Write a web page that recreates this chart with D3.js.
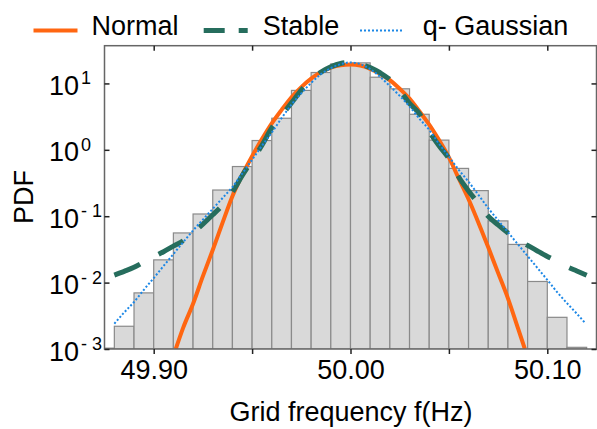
<!DOCTYPE html>
<html>
<head>
<meta charset="utf-8">
<script src="https://cdn.jsdelivr.net/npm/d3@7"></script>
<style>
  body { margin: 0; background: #fff; }
  text { font-family: "Liberation Sans", Arial, sans-serif; fill: #000; }
</style>
</head>
<body>
<svg id="chart" width="597" height="429"></svg>
<script>
// histogram bins (left edge, width 0.01 Hz)
const binStarts = [49.87, 49.88, 49.89, 49.90, 49.91, 49.92, 49.93, 49.94, 49.95, 49.96, 49.97, 49.98, 49.99,
                   50.00, 50.01, 50.02, 50.03, 50.04, 50.05, 50.06, 50.07, 50.08, 50.09, 50.10, 50.11];
const binValues = [0.00103, 0.0022, 0.0070, 0.022, 0.056, 0.108, 0.248, 0.56, 1.38, 2.99, 7.85, 14.6, 19.7,
                   20.4, 12.4, 8.3, 3.43, 1.40, 0.525, 0.243, 0.085, 0.0376, 0.0104, 0.0030, 0.00106];
const binWidth = 0.01;

// Normal fit
const normalX = [49.9112, 49.915, 49.92, 49.925, 49.93, 49.935, 49.94, 49.945, 49.95, 49.955, 49.96, 49.965,
                 49.97, 49.975, 49.98, 49.985, 49.99, 49.995, 50.00, 50.005, 50.01, 50.015, 50.02, 50.025,
                 50.03, 50.035, 50.04, 50.045, 50.05, 50.055, 50.06, 50.065, 50.07, 50.075, 50.08, 50.085, 50.0886];
const normalY = [0.001, 0.0021, 0.0048, 0.0125, 0.031, 0.08, 0.20, 0.42, 0.80, 1.45, 2.5, 4.0,
                 6.2, 8.8, 11.8, 14.8, 17.3, 18.8, 19.2, 18.6, 16.6, 14.0, 11.2, 8.3,
                 5.9, 3.8, 2.4, 1.4, 0.77, 0.37, 0.18, 0.08, 0.034, 0.014, 0.0058, 0.0021, 0.001];

// Stable fit
const stableX = [49.88, 49.885, 49.89, 49.895, 49.90, 49.905, 49.91, 49.915, 49.92, 49.925, 49.93, 49.935,
                 49.94, 49.945, 49.95, 49.955, 49.96, 49.965, 49.97, 49.975, 49.98, 49.985, 49.99, 49.995,
                 50.00, 50.005, 50.01, 50.015, 50.02, 50.025, 50.03, 50.035, 50.04, 50.045, 50.05, 50.055,
                 50.06, 50.065, 50.07, 50.075, 50.08, 50.085, 50.09, 50.095, 50.10, 50.105, 50.11, 50.115, 50.12];
const stableY = [0.0130, 0.0148, 0.0170, 0.0204, 0.0245, 0.0292, 0.0355, 0.0427, 0.0562, 0.076, 0.105, 0.148,
                 0.232, 0.41, 0.69, 1.17, 2.14, 3.3, 5.1, 7.9, 11.5, 14.8, 17.8, 20.0,
                 20.7, 19.5, 17.4, 14.5, 11.4, 7.9, 5.0, 3.5, 1.9, 1.15, 0.74, 0.39,
                 0.24, 0.155, 0.10, 0.074, 0.056, 0.0447, 0.0363, 0.0299, 0.0248, 0.0209, 0.0174, 0.0150, 0.0129];

// q-Gaussian fit
const qgX = [49.88, 49.885, 49.89, 49.895, 49.90, 49.905, 49.91, 49.915, 49.92, 49.925, 49.93, 49.935,
             49.94, 49.945, 49.95, 49.955, 49.96, 49.965, 49.97, 49.975, 49.98, 49.985, 49.99, 49.995,
             50.00, 50.005, 50.01, 50.015, 50.02, 50.025, 50.03, 50.035, 50.04, 50.045, 50.05, 50.055,
             50.06, 50.065, 50.07, 50.075, 50.08, 50.085, 50.09, 50.095, 50.10, 50.105, 50.11, 50.115, 50.119];
const qgY = [0.0024, 0.00355, 0.0051, 0.0078, 0.0117, 0.0178, 0.0269, 0.0407, 0.061, 0.089, 0.129, 0.188,
             0.275, 0.44, 0.71, 1.15, 1.82, 3.0, 4.8, 7.1, 10.2, 13.8, 17.0, 19.5,
             20.7, 19.5, 16.4, 12.6, 9.1, 6.5, 4.5, 2.95, 2.0, 1.23, 0.79, 0.50,
             0.33, 0.21, 0.132, 0.087, 0.0575, 0.038, 0.0251, 0.0166, 0.011, 0.0072, 0.0049, 0.0034, 0.0025];

const xTicks = [49.90, 49.95, 50.00, 50.05, 50.10];
const xLabels = ['49.90', '', '50.00', '', '50.10'];
const yTicks = [1e1, 1e0, 1e-1, 1e-2, 1e-3];
const yExps = ['1', '0', '- 1', '- 2', '- 3'];
const legendLabels = ['Normal', 'Stable', 'q- Gaussian'];

const plotLeft = 104.5, plotRight = 596.5, plotTop = 45.7, plotBottom = 349;

const svg = d3.select('#chart');
svg.append('rect').attr('width', 597).attr('height', 429).attr('fill', '#fff');

const x = d3.scaleLinear().domain([49.875, 50.125]).range([plotLeft, plotRight]);
const y = d3.scaleLog().domain([1e-3, 37]).range([plotBottom, plotTop]);

svg.append('clipPath').attr('id', 'plot')
  .append('rect').attr('x', plotLeft).attr('y', plotTop)
  .attr('width', plotRight - plotLeft).attr('height', plotBottom - plotTop);

const plot = svg.append('g').attr('clip-path', 'url(#plot)');

// bars
plot.selectAll('.bar')
  .data(binStarts)
  .enter().append('rect')
  .attr('class', 'bar')
  .attr('x', d => x(d))
  .attr('width', d => x(d + binWidth) - x(d))
  .attr('y', (d, i) => y(binValues[i]))
  .attr('height', (d, i) => plotBottom - y(binValues[i]))
  .attr('fill', '#d9d9d9')
  .attr('stroke', '#8a8a8a')
  .attr('stroke-width', 1.2);

const line = d3.line().x(d => x(d[0])).y(d => y(d[1])).curve(d3.curveMonotoneX);

plot.append('path')
  .datum(normalX.map((v, i) => [v, normalY[i]]))
  .attr('d', line)
  .attr('fill', 'none')
  .attr('stroke', '#ff6611')
  .attr('stroke-width', 4);

plot.append('path')
  .datum(stableX.map((v, i) => [v, stableY[i]]))
  .attr('d', line)
  .attr('fill', 'none')
  .attr('stroke', '#266d5d')
  .attr('stroke-width', 5)
  .attr('stroke-dasharray', '28,21');

plot.append('path')
  .datum(qgX.map((v, i) => [v, qgY[i]]))
  .attr('d', line)
  .attr('fill', 'none')
  .attr('stroke', '#1b87e6')
  .attr('stroke-width', 2)
  .attr('stroke-dasharray', '2,2');

// frame
svg.append('rect')
  .attr('x', plotLeft).attr('y', plotTop)
  .attr('width', plotRight - plotLeft).attr('height', plotBottom - plotTop)
  .attr('fill', 'none').attr('stroke', '#666').attr('stroke-width', 1.5);

// axes (ticks only, frame drawn separately)
const xb = svg.append('g')
  .attr('transform', 'translate(0,' + plotBottom + ')')
  .call(d3.axisBottom(x).tickValues(xTicks).tickSize(5).tickFormat((d, i) => xLabels[i]));
const xt = svg.append('g')
  .attr('transform', 'translate(0,' + plotTop + ')')
  .call(d3.axisTop(x).tickValues(xTicks).tickSize(-5).tickFormat(''));
const yl = svg.append('g')
  .attr('transform', 'translate(' + plotLeft + ',0)')
  .call(d3.axisLeft(y).tickValues(yTicks).tickSize(-5).tickFormat(''));
const yr = svg.append('g')
  .attr('transform', 'translate(' + plotRight + ',0)')
  .call(d3.axisRight(y).tickValues(yTicks).tickSize(-5).tickFormat(''));

[xb, xt, yl, yr].forEach(g => {
  g.select('.domain').remove();
  g.selectAll('.tick line').attr('stroke', '#222').attr('stroke-width', 1.5);
});
xb.selectAll('.tick text')
  .attr('y', 30).attr('dy', 0)
  .style('font-size', '27px')
  .style('font-family', '"Liberation Sans", Arial, sans-serif')
  .attr('fill', '#000');

// y labels 10^n
yTicks.forEach((t, i) => {
  const txt = svg.append('text')
    .attr('x', 49)
    .attr('y', y(t) + 11.5)
    .style('font-size', '27px');
  txt.append('tspan').text('10');
  txt.append('tspan')
    .attr('dx', 2)
    .attr('dy', -10.5)
    .style('font-size', '18px')
    .text(yExps[i]);
});

// axis titles
svg.append('text')
  .attr('x', 351).attr('y', 421)
  .attr('text-anchor', 'middle')
  .style('font-size', '27px')
  .text('Grid frequency f(Hz)');
svg.append('text')
  .attr('transform', 'translate(33,197) rotate(-90)')
  .attr('text-anchor', 'middle')
  .style('font-size', '27px')
  .text('PDF');

// legend
const legend = svg.append('g');
const legX = [33.5, 203.7, 360];
const legTextX = [91.4, 262.8, 422.7];
const legColor = ['#ff6611', '#266d5d', '#1b87e6'];
const legWidth = [4, 5, 2];
const legDash = [null, '21,14', '2,2'];
legendLabels.forEach((lab, i) => {
  legend.append('line')
    .attr('x1', legX[i]).attr('x2', legX[i] + 44)
    .attr('y1', 30.5).attr('y2', 30.5)
    .attr('stroke', legColor[i])
    .attr('stroke-width', legWidth[i])
    .attr('stroke-dasharray', legDash[i]);
  legend.append('text')
    .attr('x', legTextX[i]).attr('y', 35)
    .style('font-size', '27px')
    .text(lab);
});
</script>
</body>
</html>
